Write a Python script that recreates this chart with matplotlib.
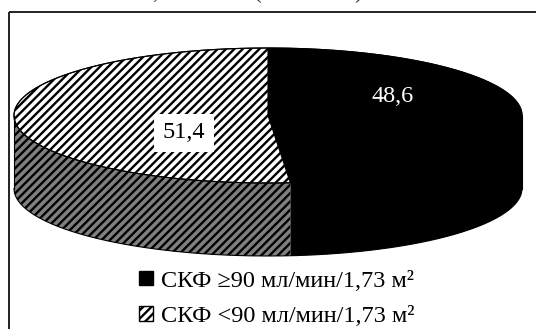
import numpy as np
import matplotlib.pyplot as plt
from matplotlib.patches import Polygon, Patch, Rectangle

plt.rcParams['font.family'] = ['Liberation Serif', 'DejaVu Serif']
plt.rcParams['hatch.linewidth'] = 1.7

values = [48.6, 51.4]
value_labels = ['48,6', '51,4']
legend_labels = ['СКФ \u226590 мл/мин/1,73 м\u00b2', 'СКФ <90 мл/мин/1,73 м\u00b2']
top_colors = ['black', 'white']
side_colors = ['black', '#808080']
hatches = [None, '////']

# ellipse geometry (pixels)
cx, cy, rx, ry, depth = 268, 115.5, 254, 67.5, 73

fig = plt.figure(figsize=(5.36, 3.29), dpi=100)
ax = fig.add_axes([0, 0, 1, 1])
ax.set_xlim(0, 536)
ax.set_ylim(329, 0)
ax.axis('off')


def pts(t, dy=0.0):
    r = np.radians(t)
    return np.column_stack([cx + rx * np.cos(r), cy - ry * np.sin(r) + dy])


total = sum(values)
start = 90.0
spans = []
for v in values:
    end = start - v / total * 360.0
    spans.append((start, end))
    start = end

# side walls (front half only: angles -180..0)
for (a0, a1), c, h in zip(spans, side_colors, hatches):
    lo, hi = max(a1, -180), min(a0, 0)
    if lo >= hi:
        continue
    t = np.linspace(lo, hi, 200)
    poly = np.vstack([pts(t), pts(t[::-1], depth)])
    ax.add_patch(Polygon(poly, closed=True, facecolor=c, edgecolor='black',
                         hatch=h, linewidth=0))

# top slices
for (a0, a1), c, h in zip(spans, top_colors, hatches):
    t = np.linspace(a0, a1, 300)
    poly = np.vstack([[cx, cy], pts(t)])
    ax.add_patch(Polygon(poly, closed=True, facecolor=c, edgecolor='black',
                         hatch=h, linewidth=0))
    ax.add_patch(Polygon(poly, closed=True, fill=False, edgecolor='black',
                         linewidth=0.8))

# outlines
t = np.linspace(0, 360, 400)
e = pts(t)
ax.plot(e[:, 0], e[:, 1], color='black', lw=0.8)
t = np.linspace(-180, 0, 200)
b = pts(t, depth)
ax.plot(b[:, 0], b[:, 1], color='black', lw=0.8)
for a in (0, -180):
    p = pts(np.array([a]))[0]
    ax.plot([p[0], p[0]], [p[1], p[1] + depth], color='black', lw=0.8)

# value labels
ax.text(393, 97, value_labels[0], color='white', fontsize=17.5,
        ha='center', va='center')
ax.text(184, 133, value_labels[1], color='black', fontsize=17.5,
        ha='center', va='center',
        bbox=dict(boxstyle='square,pad=0.35', facecolor='white', edgecolor='none'))

# frame (only top and left visible)
ax.add_patch(Rectangle((8.5, 11.5), 540, 340, fill=False, edgecolor='#222222',
                       linewidth=1.4, clip_on=True))

# cut-off title remnants
for x, ch in [(155, ','), (258, '('), (358, ')')]:
    ax.text(x, -2, ch, fontsize=17, ha='center', va='baseline', color='#333333')

handles = [Patch(facecolor='black', edgecolor='black'),
           Patch(facecolor='white', edgecolor='black', hatch='////')]
ax.legend(handles, legend_labels, loc='center', bbox_to_anchor=(277, 299),
          bbox_transform=ax.transData, frameon=False, fontsize=17.5,
          handlelength=0.55, handleheight=0.55, handletextpad=0.35,
          labelspacing=0.6, borderpad=0)

fig.savefig('out.png', dpi=100)
